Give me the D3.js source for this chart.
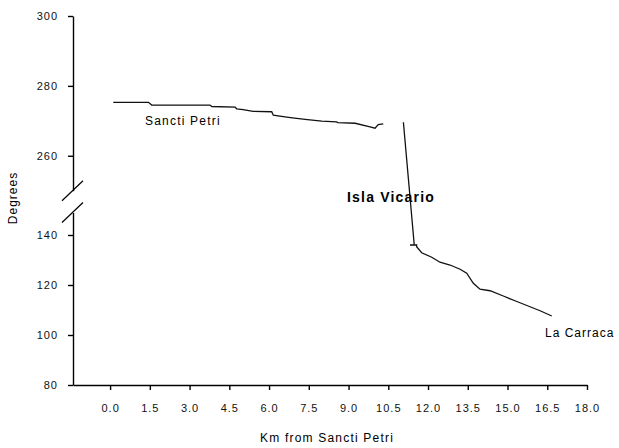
<!DOCTYPE html>
<html>
<head>
<meta charset="utf-8">
<script src="https://cdn.jsdelivr.net/npm/d3@7"></script>
<style>
  body { margin: 0; background: #fff; }
  svg { font-family: "Liberation Sans", Arial, sans-serif; }
  .axis text { font-size: 11px; letter-spacing: 1px; fill: #111; }
  .axis path, .axis line { stroke: #000; stroke-width: 1.4; }
</style>
</head>
<body>
<script>
// distance along the channel (km) and bearing (degrees)
const kmUpper = [0.12, 1.45, 1.57, 3.77, 3.84, 4.72, 4.78, 5.02, 5.40, 6.10, 6.16, 6.73, 7.36, 7.99, 8.55, 8.60, 9.25, 9.81, 10.0, 10.12, 10.31];
const degUpper = [275.3, 275.3, 274.5, 274.5, 274.1, 273.9, 273.4, 273.2, 272.7, 272.6, 271.6, 271.0, 270.4, 269.9, 269.7, 269.5, 269.3, 268.3, 267.9, 268.9, 269.1];
const kmLower = [11.07, 11.48, 11.32, 11.57, 11.57, 11.76, 12.14, 12.45, 12.83, 13.21, 13.46, 13.71, 13.96, 14.34, 14.84, 15.28, 15.85, 16.23, 16.67];
const degLower = [269.6, 136, 136, 136, 135.3, 132.9, 131.1, 129.1, 128.0, 126.3, 124.7, 120.7, 118.3, 117.7, 115.6, 113.7, 111.3, 109.7, 107.6];

const xTicks = [0, 1.5, 3, 4.5, 6, 7.5, 9, 10.5, 12, 13.5, 15, 16.5, 18];
const yTicksTop = [260, 280, 300];
const yTicksBottom = [80, 100, 120, 140];

const w = 619, h = 448;

const svg = d3.select('body').append('svg')
  .attr('width', w)
  .attr('height', h);

const x = d3.scaleLinear().domain([-1.4, 18]).range([73, 587]);
const yTop = d3.scaleLinear().domain([250, 300]).range([190.7, 16]);
const yBot = d3.scaleLinear().domain([80, 149]).range([385, 212.5]);
// broken axis: values above the gap go on the top scale
const y = v => (v >= 250 ? yTop(v) : yBot(v));

// axes
svg.append('g')
  .attr('class', 'axis')
  .attr('transform', 'translate(73,0)')
  .call(d3.axisLeft(yTop).tickValues(yTicksTop).tickSize(5).tickSizeOuter(0).tickPadding(10));

svg.append('g')
  .attr('class', 'axis')
  .attr('transform', 'translate(73,0)')
  .call(d3.axisLeft(yBot).tickValues(yTicksBottom).tickSize(5).tickSizeOuter(0).tickPadding(10));

svg.append('g')
  .attr('class', 'axis')
  .attr('transform', 'translate(0,385)')
  .call(d3.axisBottom(x).tickValues(xTicks).tickFormat(d3.format('.1f')).tickSize(5).tickSizeOuter(0).tickPadding(14));

svg.selectAll('.domain').attr('stroke', '#000');

// break marks on the y axis
const breaks = svg.append('g').attr('stroke', '#000').attr('stroke-width', 1.2);
[yTop.range()[0], yBot.range()[1]].forEach(yy => {
  breaks.append('line')
    .attr('x1', 62).attr('y1', yy + 10)
    .attr('x2', 83).attr('y2', yy - 10);
});

// the line
const line = d3.line().x(d => x(d[0])).y(d => y(d[1]));

svg.append('path')
  .datum(d3.zip(kmUpper, degUpper))
  .attr('d', line)
  .attr('fill', 'none')
  .attr('stroke', '#111')
  .attr('stroke-width', 1.3);

svg.append('path')
  .datum(d3.zip(kmLower, degLower))
  .attr('d', line)
  .attr('fill', 'none')
  .attr('stroke', '#111')
  .attr('stroke-width', 1.3);

// labels
svg.append('text')
  .attr('x', 145).attr('y', 125)
  .style('font-size', '12px').style('letter-spacing', '1.2px')
  .text('Sancti Petri');

svg.append('text')
  .attr('x', 347).attr('y', 202)
  .style('font-size', '14px').style('font-weight', 'bold').style('letter-spacing', '1.2px')
  .text('Isla Vicario');

svg.append('text')
  .attr('x', 545).attr('y', 337)
  .style('font-size', '12px').style('letter-spacing', '1px')
  .text('La Carraca');

svg.append('text')
  .attr('x', 327).attr('y', 442)
  .attr('text-anchor', 'middle')
  .style('font-size', '12px').style('letter-spacing', '1.2px')
  .text('Km from Sancti Petri');

svg.append('text')
  .attr('transform', 'translate(17,198) rotate(-90)')
  .attr('text-anchor', 'middle')
  .style('font-size', '12px').style('letter-spacing', '1px')
  .text('Degrees');
</script>
</body>
</html>
